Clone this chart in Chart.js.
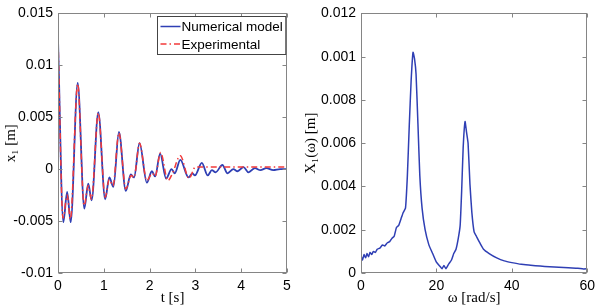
<!DOCTYPE html>
<html>
<head>
<meta charset="utf-8">
<script src="https://cdn.jsdelivr.net/npm/chart.js@4.4.1/dist/chart.umd.min.js"></script>
<style>
  html, body { margin: 0; padding: 0; background: #fff; }
  .wrap { position: absolute; top: 0; width: 300px; height: 308px; }
</style>
</head>
<body>
<div class="wrap" style="left:0"><canvas id="timeChart" width="300" height="308"></canvas></div>
<div class="wrap" style="left:300px"><canvas id="freqChart" width="300" height="308"></canvas></div>
<script>
// time response, numerical model (t in s, x1 in m)
const tNum = [0, 0.116, 0.2, 0.277, 0.43, 0.575, 0.66, 0.735, 0.88, 1.03, 1.12, 1.21, 1.33, 1.48, 1.59, 1.66, 1.78, 1.94, 2.05, 2.12, 2.23, 2.36, 2.48, 2.55, 2.67, 2.85, 2.93, 2.99, 3.14, 3.27, 3.36, 3.44, 3.59, 3.70, 3.83, 3.92, 4.05, 4.16, 4.30, 4.42, 4.55, 4.70, 4.85, 5.0];
const xNum = [0.0125, -0.0051, -0.0022, -0.0051, 0.0083, -0.0038, -0.0014, -0.0030, 0.0055, -0.0029, -0.0008, -0.0017, 0.0036, -0.0021, -0.0005, -0.0008, 0.0025, -0.0013, -0.0002, -0.0007, 0.0015, -0.0009, 0.0000, -0.0004, 0.0009, -0.0008, -0.0004, -0.0006, 0.0006, -0.0006, -0.0001, -0.0003, 0.0004, -0.0004, 0.0000, -0.0002, 0.0002, -0.0003, 0.0001, -0.0001, 0.0001, -0.0001, 0.0000, 0.0000];

// time response, experimental
const tExp = [0, 0.11, 0.2, 0.27, 0.43, 0.57, 0.66, 0.73, 0.88, 1.03, 1.12, 1.2, 1.33, 1.48, 1.6, 1.66, 1.78, 1.94, 2.06, 2.12, 2.24, 2.4, 2.5, 2.67, 2.86, 3.0, 5.0];
const xExp = [0.0126, -0.0047, -0.0025, -0.0048, 0.0082, -0.0035, -0.0016, -0.0029, 0.0054, -0.0027, -0.0010, -0.0016, 0.0035, -0.0019, -0.0006, -0.0008, 0.0025, -0.0011, -0.0004, -0.0007, 0.0016, -0.0011, -0.0004, 0.0013, -0.0009, 0.0002, 0.0002];

// frequency response (omega in rad/s, X1 in m)
const wFreq = [0, 0.4, 0.8, 1.2, 1.6, 2.0, 2.4, 2.8, 3.3, 3.8, 4.3, 5.0, 5.7, 6.3, 7.0, 7.6, 8.2, 8.8, 9.4, 10.0, 10.6, 11.2, 11.8, 12.3, 12.8, 13.3, 13.8, 14.2, 14.6, 15.1, 15.6, 16.2, 17.0, 18.0, 19.0, 20.0, 21.0, 21.5, 22.0, 22.5, 23.2, 24.0, 24.6, 25.2, 25.8, 26.3, 26.7, 27.1, 27.6, 28.0, 28.4, 28.9, 29.4, 30.0, 30.6, 31.5, 32.5, 34, 36, 38, 40, 42.5, 45, 47.5, 50, 52.5, 55, 57.5, 59, 60];
const xFreq = [0.0008, 0.0006, 0.00085, 0.0007, 0.0009, 0.00075, 0.00095, 0.00085, 0.001, 0.00095, 0.0011, 0.00115, 0.0013, 0.00125, 0.0014, 0.00145, 0.0016, 0.0017, 0.0021, 0.0022, 0.0025, 0.0028, 0.0030, 0.0045, 0.0068, 0.0089, 0.0102, 0.0099, 0.0092, 0.0069, 0.0045, 0.0030, 0.0020, 0.0013, 0.0009, 0.0005, 0.0003, 0.0002, 0.00035, 0.0002, 0.0004, 0.0006, 0.0009, 0.0011, 0.0016, 0.0022, 0.0038, 0.0058, 0.0070, 0.0065, 0.0060, 0.0041, 0.0028, 0.0019, 0.0017, 0.0014, 0.0011, 0.0009, 0.0007, 0.00056, 0.00048, 0.0004, 0.00036, 0.00032, 0.00029, 0.00027, 0.00024, 0.00022, 0.00019, 0.0002];

// tick labels as printed
const timeYLabels = ['-0.01', '-0.005', '0', '0.005', '0.01', '0.015'];
const timeXLabels = ['0', '1', '2', '3', '4', '5'];
const freqYLabels = ['0', '0.002', '0.004', '0.006', '0.008', '0.001', '0.012'];
const freqXLabels = ['0', '20', '40', '60'];

const BLUE = '#2f3fb4';
const RED = '#f23a3a';
const FRAME = '#858585';
const TICK_FONT = { family: "'Liberation Sans', Arial, sans-serif", size: 14 };
const TITLE_FONT = { family: "'Liberation Serif', 'DejaVu Serif', serif", size: 15 };

function toPoints(xs, ys) {
    return xs.map((x, i) => ({ x: x, y: ys[i] }));
}

// box around the plot with inward ticks on all four sides
const frameTicks = {
    id: 'frameTicks',
    afterDraw(chart) {
        const ctx = chart.ctx;
        const a = chart.chartArea;
        const sx = chart.scales.x, sy = chart.scales.y;
        ctx.save();
        ctx.strokeStyle = FRAME;
        ctx.lineWidth = 1;
        const L = Math.round(a.left) + 0.5, R = Math.round(a.right) - 0.5;
        const T = Math.round(a.top) + 0.5, B = Math.round(a.bottom) - 0.5;
        ctx.strokeRect(L, T, R - L, B - T);
        ctx.beginPath();
        sx.ticks.forEach(t => {
            const p = Math.round(sx.getPixelForValue(t.value)) + 0.5;
            ctx.moveTo(p, B); ctx.lineTo(p, B - 4);
            ctx.moveTo(p, T); ctx.lineTo(p, T + 4);
        });
        sy.ticks.forEach(t => {
            const p = Math.round(sy.getPixelForValue(t.value)) + 0.5;
            ctx.moveTo(L, p); ctx.lineTo(L + 4, p);
            ctx.moveTo(R, p); ctx.lineTo(R - 4, p);
        });
        ctx.stroke();
        ctx.restore();
    }
};

// legend box in the top right corner of the plot
const boxLegend = {
    id: 'boxLegend',
    afterDraw(chart) {
        const ctx = chart.ctx;
        const a = chart.chartArea;
        const sets = chart.data.datasets;
        ctx.save();
        ctx.font = "13.5px 'Liberation Sans', Arial, sans-serif";
        const textW = Math.max(...sets.map(d => ctx.measureText(d.label).width));
        const w = 24 + textW + 3, h = 38;
        const x0 = Math.round(a.right - 2 - w) + 0.5, y0 = Math.round(a.top + 3) + 0.5;
        ctx.fillStyle = '#fff';
        ctx.fillRect(x0, y0, w, h);
        ctx.strokeStyle = '#444';
        ctx.lineWidth = 1;
        ctx.strokeRect(x0, y0, w, h);
        sets.forEach((d, i) => {
            const y = y0 + 10 + i * 17.5;
            ctx.beginPath();
            ctx.strokeStyle = d.borderColor;
            ctx.lineWidth = 1.5;
            ctx.setLineDash(d.borderDash || []);
            ctx.moveTo(x0 + 3, y);
            ctx.lineTo(x0 + 23, y);
            ctx.stroke();
            ctx.setLineDash([]);
            ctx.fillStyle = '#000';
            ctx.textBaseline = 'middle';
            ctx.fillText(d.label, x0 + 24, y + 1);
        });
        ctx.restore();
    }
};

function axisOptions(min, max, step, labels, yTitle, xTitle, xMin, xMax, xStep, xLabels, yWidth) {
    return {
        x: {
            type: 'linear', min: xMin, max: xMax,
            border: { display: false },
            grid: { display: false, drawTicks: false },
            ticks: {
                stepSize: xStep, font: TICK_FONT, color: '#000', padding: 5, maxRotation: 0,
                callback: (v) => xLabels[Math.round((v - xMin) / xStep)]
            },
            title: { display: true, text: xTitle, font: TITLE_FONT, color: '#000', padding: { top: 0, bottom: 1 } },
            afterFit(scale) { scale.height = 35; }
        },
        y: {
            type: 'linear', min: min, max: max,
            border: { display: false },
            grid: { display: false, drawTicks: false },
            ticks: {
                stepSize: step, font: TICK_FONT, color: '#000', padding: 5,
                callback: (v) => labels[Math.round((v - min) / step)]
            },
            title: { display: true, text: yTitle, font: TITLE_FONT, color: '#000', padding: { top: 2, bottom: 0 } },
            afterFit(scale) { scale.width = yWidth; }
        }
    };
}

new Chart('timeChart', {
    type: 'line',
    data: {
        datasets: [{
            label: 'Numerical model',
            data: toPoints(tNum, xNum),
            borderColor: BLUE,
            borderWidth: 1.8,
            pointRadius: 0,
            order: 1,
            cubicInterpolationMode: 'monotone'
        }, {
            label: 'Experimental',
            data: toPoints(tExp, xExp),
            borderColor: RED,
            borderWidth: 1.5,
            borderDash: [6, 3, 1.5, 3],
            pointRadius: 0,
            order: 0,
            cubicInterpolationMode: 'monotone'
        }]
    },
    options: {
        responsive: false,
        animation: false,
        layout: { padding: { top: 10, right: 13, left: 0, bottom: 0 } },
        plugins: { legend: { display: false }, tooltip: { enabled: false } },
        scales: axisOptions(-0.01, 0.015, 0.005, timeYLabels, 'x\u2081 [m]', 't [s]', 0, 5, 1, timeXLabels, 58)
    },
    plugins: [frameTicks, boxLegend]
});

new Chart('freqChart', {
    type: 'line',
    data: {
        datasets: [{
            label: 'X1',
            data: toPoints(wFreq, xFreq),
            borderColor: BLUE,
            borderWidth: 1.5,
            pointRadius: 0,
            tension: 0.15
        }]
    },
    options: {
        responsive: false,
        animation: false,
        layout: { padding: { top: 10, right: 9, left: 0, bottom: 0 } },
        plugins: { legend: { display: false }, tooltip: { enabled: false } },
        scales: axisOptions(0, 0.012, 0.002, freqYLabels, 'X\u2081(\u03c9) [m]', '\u03c9 [rad/s]', 0, 60, 20, freqXLabels, 61)
    },
    plugins: [frameTicks]
});
</script>
</body>
</html>
